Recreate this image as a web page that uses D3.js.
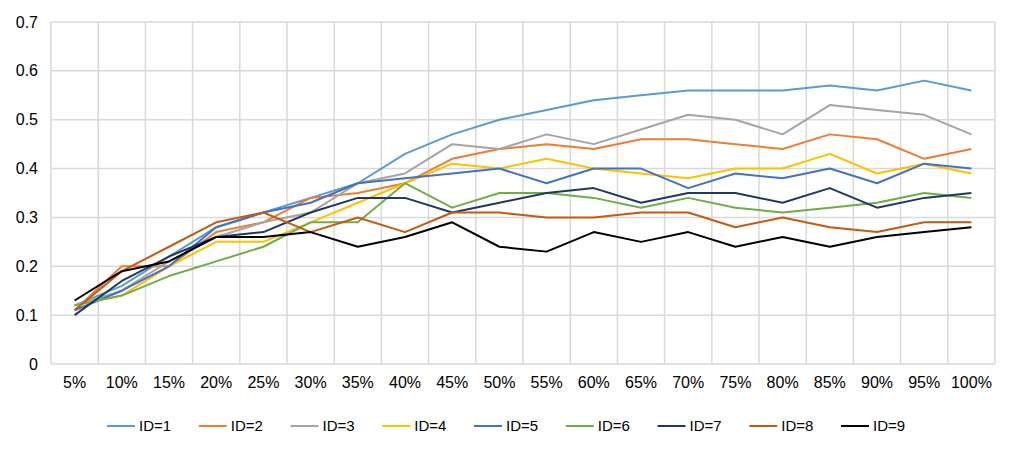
<!DOCTYPE html>
<html>
<head>
<meta charset="utf-8">
<script src="https://cdn.jsdelivr.net/npm/d3@7"></script>
<style>
  body { margin: 0; background: #fff; }
  svg { display: block; }
  text { font-family: "Liberation Sans", Arial, sans-serif; fill: #000; }
</style>
</head>
<body>
<svg id="chart" width="1018" height="456"></svg>
<script>
const categories = ["5%","10%","15%","20%","25%","30%","35%","40%","45%","50%","55%","60%","65%","70%","75%","80%","85%","90%","95%","100%"];
const seriesNames = ["ID=1","ID=2","ID=3","ID=4","ID=5","ID=6","ID=7","ID=8","ID=9"];
const id1 = [0.12,0.16,0.22,0.28,0.31,0.34,0.37,0.43,0.47,0.50,0.52,0.54,0.55,0.56,0.56,0.56,0.57,0.56,0.58,0.56];
const id2 = [0.11,0.20,0.20,0.27,0.29,0.34,0.35,0.37,0.42,0.44,0.45,0.44,0.46,0.46,0.45,0.44,0.47,0.46,0.42,0.44];
const id3 = [0.12,0.15,0.21,0.26,0.29,0.31,0.37,0.39,0.45,0.44,0.47,0.45,0.48,0.51,0.50,0.47,0.53,0.52,0.51,0.47];
const id4 = [0.12,0.14,0.20,0.25,0.25,0.29,0.33,0.37,0.41,0.40,0.42,0.40,0.39,0.38,0.40,0.40,0.43,0.39,0.41,0.39];
const id5 = [0.11,0.15,0.20,0.28,0.31,0.33,0.37,0.38,0.39,0.40,0.37,0.40,0.40,0.36,0.39,0.38,0.40,0.37,0.41,0.40];
const id6 = [0.12,0.14,0.18,0.21,0.24,0.29,0.29,0.37,0.32,0.35,0.35,0.34,0.32,0.34,0.32,0.31,0.32,0.33,0.35,0.34];
const id7 = [0.10,0.17,0.22,0.26,0.27,0.31,0.34,0.34,0.31,0.33,0.35,0.36,0.33,0.35,0.35,0.33,0.36,0.32,0.34,0.35];
const id8 = [0.11,0.19,0.24,0.29,0.31,0.27,0.30,0.27,0.31,0.31,0.30,0.30,0.31,0.31,0.28,0.30,0.28,0.27,0.29,0.29];
const id9 = [0.13,0.19,0.21,0.26,0.26,0.27,0.24,0.26,0.29,0.24,0.23,0.27,0.25,0.27,0.24,0.26,0.24,0.26,0.27,0.28];
const yTicks = [0,0.1,0.2,0.3,0.4,0.5,0.6,0.7];
const colors = ["#5B9BD5","#ED7D31","#A5A5A5","#FFC000","#4472C4","#70AD47","#203864","#C55A11","#000000"];

const series = [id1,id2,id3,id4,id5,id6,id7,id8,id9].map((vals,i)=>({name:seriesNames[i], values:vals, color:colors[i]}));

const svg = d3.select("#chart");
const margin = {left: 51, right: 23, top: 22, bottom: 92};
const W = 1018, H = 456;
const x = d3.scaleBand().domain(categories).range([margin.left, W - margin.right]);
const y = d3.scaleLinear().domain([0, 0.7]).range([H - margin.bottom, margin.top]);

// gridlines horizontal
svg.append("g").selectAll("line").data(yTicks).join("line")
  .attr("x1", margin.left).attr("x2", W - margin.right)
  .attr("y1", d => y(d)).attr("y2", d => y(d))
  .attr("stroke", "#D9D9D9").attr("stroke-width", 1.5);
// gridlines vertical at band boundaries
const bounds = categories.map(c => x(c)).concat([x(categories[categories.length-1]) + x.bandwidth()]);
svg.append("g").selectAll("line").data(bounds).join("line")
  .attr("x1", d => d).attr("x2", d => d)
  .attr("y1", y(0.7)).attr("y2", y(0))
  .attr("stroke", "#D9D9D9").attr("stroke-width", 1.5);

// y axis labels
const yAxis = d3.axisLeft(y).tickValues(yTicks).tickSize(0).tickPadding(13).tickFormat(d => d === 0 ? "0" : d3.format(".1f")(d));
const gy = svg.append("g").attr("transform", `translate(${margin.left},0)`).call(yAxis);
gy.select(".domain").remove();
gy.selectAll("text").attr("font-size", 16).attr("font-family", "Liberation Sans, Arial, sans-serif").attr("fill", "#000");

// x axis labels
const xAxis = d3.axisBottom(x).tickSize(0).tickPadding(13);
const gx = svg.append("g").attr("transform", `translate(0,${y(0)})`).call(xAxis);
gx.select(".domain").remove();
gx.selectAll("text").attr("font-size", 16).attr("font-family", "Liberation Sans, Arial, sans-serif").attr("fill", "#000");

// lines
const line = d3.line().x((d,i) => x(categories[i]) + x.bandwidth()/2).y(d => y(d));
svg.append("g").selectAll("path").data(series).join("path")
  .attr("d", d => line(d.values))
  .attr("fill", "none")
  .attr("stroke", d => d.color)
  .attr("stroke-width", 2)
  .attr("stroke-linejoin", "round");

// legend
const legend = svg.append("g").attr("transform", "translate(107,426)");
const item = legend.selectAll("g").data(series).join("g")
  .attr("transform", (d,i) => `translate(${i*91.75},0)`);
item.append("line").attr("x1", 0).attr("x2", 28).attr("y1", 0).attr("y2", 0)
  .attr("stroke", d => d.color).attr("stroke-width", 2);
item.append("text").attr("x", 32).attr("y", 0).attr("dy", "0.35em")
  .attr("font-size", 15).text(d => d.name);
</script>
</body>
</html>
